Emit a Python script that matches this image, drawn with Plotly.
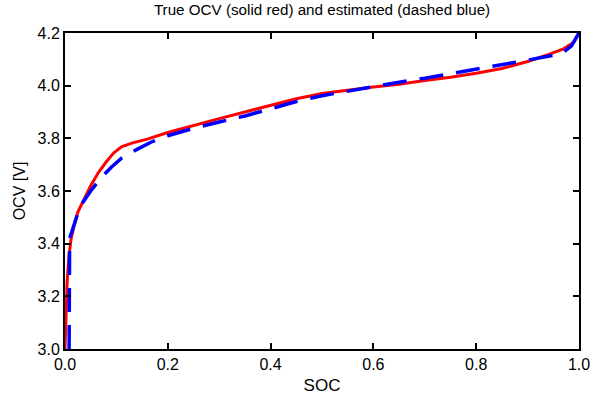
import plotly.graph_objects as go

true_soc = [0.0, 0.002, 0.004, 0.008, 0.012, 0.018, 0.025, 0.035, 0.05, 0.065, 0.08, 0.095,
            0.11, 0.13, 0.16, 0.2, 0.25, 0.3, 0.35, 0.4, 0.45, 0.5, 0.55, 0.6, 0.65, 0.7,
            0.75, 0.8, 0.85, 0.9, 0.94, 0.97, 0.99, 1.0]
true_ocv = [3.0, 3.12, 3.25, 3.36, 3.42, 3.47, 3.52, 3.56, 3.62, 3.67, 3.71, 3.745,
            3.768, 3.782, 3.797, 3.822, 3.85, 3.875, 3.9, 3.925, 3.95, 3.97, 3.983, 3.995,
            4.005, 4.02, 4.032, 4.047, 4.065, 4.092, 4.118, 4.14, 4.165, 4.2]

est_soc = [0.008, 0.008, 0.009, 0.014, 0.02, 0.029, 0.05, 0.07, 0.09, 0.11, 0.14, 0.17,
           0.2, 0.25, 0.3, 0.35, 0.4, 0.45, 0.5, 0.55, 0.6, 0.65, 0.7, 0.75, 0.8, 0.85,
           0.9, 0.94, 0.965, 0.985, 1.0]
est_ocv = [3.0, 3.2, 3.42, 3.45, 3.49, 3.54, 3.6, 3.65, 3.69, 3.725, 3.758, 3.788,
           3.81, 3.838, 3.862, 3.885, 3.912, 3.94, 3.962, 3.98, 3.998, 4.013, 4.028, 4.045,
           4.06, 4.077, 4.097, 4.112, 4.12, 4.15, 4.2]

x_ticks = [0.0, 0.2, 0.4, 0.6, 0.8, 1.0]
y_ticks = [3.0, 3.2, 3.4, 3.6, 3.8, 4.0, 4.2]

FONT = "Liberation Sans, Arial"

fig = go.Figure()
fig.add_trace(go.Scatter(x=true_soc, y=true_ocv, mode="lines",
                         line=dict(color="#ff0000", width=3), showlegend=False))
fig.add_trace(go.Scatter(x=est_soc, y=est_ocv, mode="lines",
                         line=dict(color="#0000ff", width=3.5, dash="24px,13px"), showlegend=False))

axis_common = dict(showline=True, linecolor="black", linewidth=2, mirror="allticks",
                   ticks="inside", ticklen=6, tickwidth=1.5, tickcolor="black",
                   showgrid=False, zeroline=False, automargin=False,
                   tickfont=dict(family=FONT, size=16, color="black"))

fig.update_layout(
    width=592, height=402,
    margin=dict(l=65, r=13, t=33, b=53),
    paper_bgcolor="white", plot_bgcolor="white",
    title=dict(text="True OCV (solid red) and estimated (dashed blue)",
               x=0.544, xanchor="center", y=0.99, yanchor="top",
               font=dict(family=FONT, size=15.2, color="black")),
    xaxis=dict(range=[0, 1], tickvals=x_ticks, ticktext=[f"{v:.1f}" for v in x_ticks],
               title=dict(text="SOC", standoff=7,
                          font=dict(family=FONT, size=17, color="black")),
               **axis_common),
    yaxis=dict(range=[3.0, 4.2], tickvals=y_ticks, ticktext=[f"{v:.1f}" for v in y_ticks],
               title=dict(text="OCV [V]", standoff=8,
                          font=dict(family=FONT, size=16, color="black")),
               **axis_common),
)

fig.write_html("out.html")
